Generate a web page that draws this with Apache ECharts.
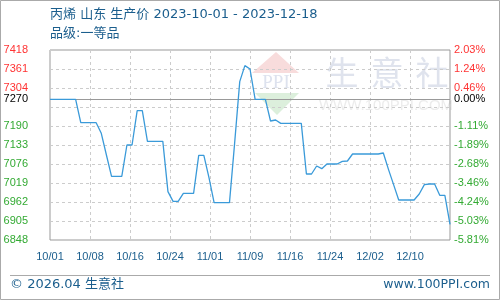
<!DOCTYPE html>
<html>
<head>
<meta charset="utf-8">
<script src="https://cdn.jsdelivr.net/npm/echarts@6/dist/echarts.min.js"></script>
<style>html,body{margin:0;padding:0;background:#fff}#c{width:500px;height:300px}</style>
</head>
<body>
<div id="c"></div>
<script>
// day offsets from 2023-10-01 (0..78) -> price
const prices = [
  7270, 7270, 7270, 7270, 7270, 7270, 7200, 7200, 7200, 7200,
  7168, 7103, 7039, 7039, 7039, 7133, 7133, 7236, 7236, 7144,
  7144, 7144, 7144, 6993, 6964, 6964, 6988, 6988, 6988, 7102,
  7102, 7035, 6960, 6960, 6960, 6960, 7138, 7323, 7371, 7361,
  7270, 7270, 7270, 7205, 7208, 7198, 7198, 7198, 7198, 7198,
  7046, 7046, 7070, 7062, 7076, 7076, 7076, 7084, 7085, 7106,
  7106, 7106, 7106, 7106, 7106, 7109, 7060, 7014, 6968, 6968,
  6968, 6968, 6986, 7014, 7016, 7016, 6982, 6982, 6895
];
const xTickLabels = ['10/01','10/08','10/16','10/24','11/01','11/09','11/16','11/24','12/02','12/10'];
const baseValue = 7270;
const leftTicks = [6848, 6905, 6962, 7019, 7076, 7133, 7190, 7270, 7304, 7361, 7418];
const rightTickLabels = ['-5.81%','-5.03%','-4.24%','-3.46%','-2.68%','-1.89%','-1.11%','0.00%','0.46%','1.24%','2.03%'];
const titleLine1 = '丙烯 山东 生产价 2023-10-01 - 2023-12-18';
const titleLine2 = '品级:一等品';
const footerLeft = '© 2026.04 生意社';
const footerRight = 'www.100PPI.com';
const watermarkChars = ['生', '意', '社'];

const blue = '#1b5e8d';
const lblColor = v => { v = Number(v); return v > baseValue ? '#ff3333' : (v === baseValue ? '#000000' : '#33aa33'); };
const chart = echarts.init(document.getElementById('c'), null, {renderer: 'canvas'});
const fontMain = "'DejaVu Sans', 'Noto Sans CJK SC', sans-serif";
const wmGraphics = watermarkChars.map((ch, i) => ({
  type: 'text', silent: true, z: -1,
  style: {x: 342 + i * 45, y: 72, text: ch, fontSize: 33, fontFamily: "'Noto Sans CJK SC'", fill: '#dfe3ed', align: 'center', verticalAlign: 'middle'}
}));
chart.setOption({
  animation: false,
  grid: {left: 50, right: 50, top: 50, bottom: 60, show: true, borderColor: '#999', borderWidth: 1, backgroundColor: 'transparent'},
  xAxis: {
    type: 'value', min: 0, max: 78, interval: 7.8,
    axisLine: {show: false}, axisTick: {show: false},
    splitLine: {show: true, lineStyle: {color: '#cccccc', type: [3, 3], width: 1}},
    axisLabel: {
      margin: 11, fontSize: 11, color: blue, fontFamily: 'Liberation Sans',
      showMaxLabel: true, showMinLabel: true,
      formatter: v => { const k = Math.round(v / 7.8); return k < xTickLabels.length ? xTickLabels[k] : ''; }
    }
  },
  yAxis: [{
    type: 'value', min: 6848, max: 7418, interval: 57, position: 'left',
    axisLine: {show: false}, axisTick: {show: false},
    splitLine: {show: true, lineStyle: {color: '#cccccc', type: [3, 3], width: 1}},
    axisLabel: {
      customValues: leftTicks, margin: 22, fontSize: 11, fontFamily: 'Liberation Sans',
      color: lblColor, formatter: v => String(v)
    }
  }, {
    type: 'value', min: 6848, max: 7418, interval: 57, position: 'right',
    axisLine: {show: false}, axisTick: {show: false}, splitLine: {show: false},
    axisLabel: {
      customValues: leftTicks, margin: 4, fontSize: 11, fontFamily: 'Liberation Sans',
      color: lblColor, formatter: v => { const i = leftTicks.indexOf(Number(v)); return i >= 0 ? rightTickLabels[i] : ''; }
    }
  }],
  series: [{
    type: 'line', yAxisIndex: 0,
    data: prices.map((p, i) => [i, p]),
    showSymbol: false, symbol: 'none',
    lineStyle: {color: '#3a9ad9', width: 1.3},
    z: 5,
    markLine: {
      silent: true, symbol: 'none', label: {show: false},
      lineStyle: {color: '#999999', type: 'solid', width: 1.2},
      data: [{yAxis: baseValue}], z: 3
    }
  }],
  graphic: [
    {type: 'rect', shape: {x: 0.5, y: 0.5, width: 499, height: 299}, style: {fill: 'none', stroke: '#aaaaaa', lineWidth: 1}, silent: true},
    // watermark logo
    {type: 'polygon', shape: {points: [[276, 52], [252, 73], [299, 73]]}, style: {fill: '#f8dcdc'}, silent: true, z: -1},
    {type: 'text', style: {x: 276, y: 83, text: 'PPI', fontSize: 19, fontFamily: 'Liberation Serif', fill: '#dde2ee', align: 'center', verticalAlign: 'middle'}, silent: true, z: -1},
    {type: 'polygon', shape: {points: [[255, 93], [299, 93], [277, 115]]}, style: {fill: '#dcefdc'}, silent: true, z: -1},
    ...wmGraphics,
    {type: 'text', style: {x: 386, y: 106, text: 'WWW.100PPI.COM', fontSize: 15, fontFamily: 'Liberation Sans', fill: '#ececec', align: 'center', verticalAlign: 'middle'}, silent: true, z: -1},
    // titles
    {type: 'text', style: {x: 50, y: 15, text: titleLine1, fontSize: 13, fontFamily: fontMain, fill: blue, verticalAlign: 'middle'}, silent: true},
    {type: 'text', style: {x: 50, y: 34, text: titleLine2, fontSize: 13, fontFamily: fontMain, fill: blue, verticalAlign: 'middle'}, silent: true},
    // footer
    {type: 'line', shape: {x1: 10, y1: 275.5, x2: 490, y2: 275.5}, style: {stroke: '#aaaaaa', lineWidth: 1}, silent: true},
    {type: 'text', style: {x: 10, y: 285, text: footerLeft, fontSize: 13, fontFamily: fontMain, fill: blue, verticalAlign: 'middle'}, silent: true},
    {type: 'text', style: {x: 490, y: 285, text: footerRight, fontSize: 12.5, fontFamily: fontMain, fill: blue, align: 'right', verticalAlign: 'middle'}, silent: true}
  ]
});
</script>
</body>
</html>
